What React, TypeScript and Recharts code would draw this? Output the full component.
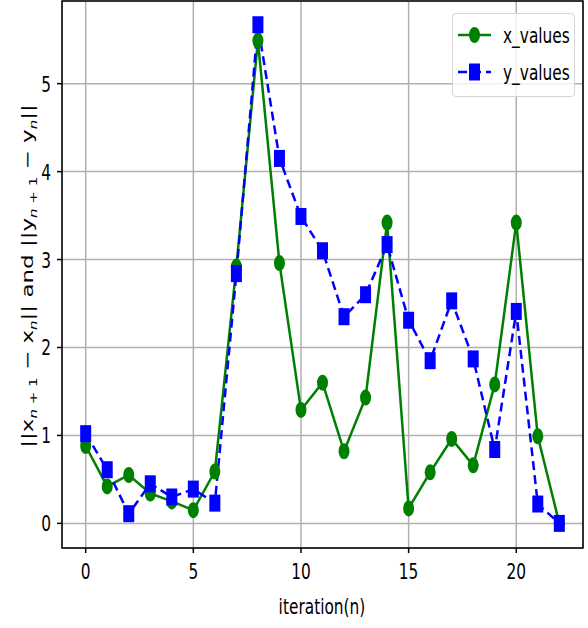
import React from 'react';
import { LineChart, Line, XAxis, YAxis, CartesianGrid, ReferenceArea, Label } from 'recharts';

// values
const iterations = [0, 1, 2, 3, 4, 5, 6, 7, 8, 9, 10, 11, 12, 13, 14, 15, 16, 17, 18, 19, 20, 21, 22];
const xValues = [0.88, 0.42, 0.55, 0.34, 0.25, 0.15, 0.59, 2.92, 5.49, 2.96, 1.29, 1.6, 0.82, 1.43, 3.42, 0.17, 0.58, 0.96, 0.66, 1.58, 3.42, 0.99, 0.0];
const yValues = [1.02, 0.61, 0.11, 0.45, 0.3, 0.39, 0.23, 2.84, 5.67, 4.15, 3.49, 3.1, 2.35, 2.6, 3.17, 2.31, 1.85, 2.53, 1.87, 0.84, 2.41, 0.22, 0.0];
const xTicks = [0, 5, 10, 15, 20];
const yTicks = [0, 1, 2, 3, 4, 5];

const data = iterations.map((n, i) => ({ n, x: xValues[i], y: yValues[i] }));

const FONT = 'DejaVu Sans, sans-serif';
const SX = 0.7; // the reference is squeezed horizontally

const XTick = (props: any) => {
  const { x, y, payload } = props;
  return (
    <text transform={`translate(${x},${y + 26}) scale(${SX},1)`} textAnchor="middle" fontSize={22} fontFamily={FONT} fill="#000">
      {payload.value}
    </text>
  );
};

const YTick = (props: any) => {
  const { x, y, payload } = props;
  return (
    <text transform={`translate(${x - 6},${y + 8}) scale(${SX},1)`} textAnchor="end" fontSize={22} fontFamily={FONT} fill="#000">
      {payload.value}
    </text>
  );
};

const GreenDot = (p: any) => (
  <ellipse key={`g${p.index}`} cx={p.cx} cy={p.cy} rx={5.5} ry={8} fill="green" />
);
const BlueDot = (p: any) => (
  <rect key={`b${p.index}`} x={p.cx - 5.5} y={p.cy - 8.5} width={11} height={17} fill="blue" />
);

const LegendBox = () => (
  <div style={{ position: 'absolute', left: 452, top: 13, width: 123, height: 84, border: '1px solid #d5d5d5', borderRadius: 4, background: 'rgba(255,255,255,0.8)', boxSizing: 'border-box' }}>
    <svg width={122} height={82} style={{ display: 'block' }}>
      <line x1={5} x2={38} y1={21} y2={21} stroke="green" strokeWidth={2.5} />
      <ellipse cx={21.5} cy={21} rx={5.5} ry={8} fill="green" />
      <text transform={`translate(50,29) scale(${SX},1)`} fontSize={22} fontFamily={FONT} fill="#000">x_values</text>
      <line x1={5} x2={38} y1={58} y2={58} stroke="blue" strokeWidth={2.5} strokeDasharray="9 5" />
      <rect x={16} y={49.5} width={11} height={17} fill="blue" />
      <text transform={`translate(50,66) scale(${SX},1)`} fontSize={22} fontFamily={FONT} fill="#000">y_values</text>
    </svg>
  </div>
);

const YLabel = () => (
  <text transform={`translate(33,276) scale(${SX},1) rotate(-90)`} textAnchor="middle" fontSize={23} fontFamily={FONT} fill="#000">
    ||x
    <tspan fontSize={15} dy={6}><tspan fontStyle="italic">n</tspan> + 1</tspan>
    <tspan dy={-6}> − x</tspan>
    <tspan fontSize={15} dy={6} fontStyle="italic">n</tspan>
    <tspan dy={-6}>|| and ||y</tspan>
    <tspan fontSize={15} dy={6}><tspan fontStyle="italic">n</tspan> + 1</tspan>
    <tspan dy={-6}> − y</tspan>
    <tspan fontSize={15} dy={6} fontStyle="italic">n</tspan>
    <tspan dy={-6}>||</tspan>
  </text>
);

const XLabel = () => (
  <text transform={`translate(322,614) scale(${SX},1)`} textAnchor="middle" fontSize={22} fontFamily={FONT} fill="#000">
    iteration(n)
  </text>
);

const App: React.FC = () => {
  return (
    <div style={{ position: 'absolute', left: 0, top: 0, width: 588, height: 628, background: '#fff' }}>
      <LineChart width={588} height={628} data={data} margin={{ top: 1, right: 5, bottom: 0, left: 0 }}>
        <CartesianGrid stroke="#b0b0b0" strokeWidth={1.5} />
        <XAxis
          dataKey="n"
          type="number"
          domain={[-1.1, 23.1]}
          ticks={xTicks}
          allowDataOverflow
          height={80}
          tickSize={5}
          tickMargin={0}
          axisLine={false}
          tickLine={{ stroke: '#000', strokeWidth: 1.5 }}
          tick={<XTick />}
        >
          <Label content={<XLabel />} />
        </XAxis>
        <YAxis
          type="number"
          domain={[-0.28, 5.94]}
          ticks={yTicks}
          allowDataOverflow
          width={62}
          tickSize={5}
          tickMargin={0}
          axisLine={false}
          tickLine={{ stroke: '#000', strokeWidth: 1.5 }}
          tick={<YTick />}
        >
          <Label content={<YLabel />} />
        </YAxis>
        <ReferenceArea x1={-1.1} x2={23.1} y1={-0.28} y2={5.94} fill="none" stroke="#000" strokeWidth={1.5} ifOverflow="visible" />
        <Line dataKey="x" stroke="green" strokeWidth={2.5} dot={GreenDot} activeDot={false} isAnimationActive={false} />
        <Line dataKey="y" stroke="blue" strokeWidth={2.5} strokeDasharray="9 5" dot={BlueDot} activeDot={false} isAnimationActive={false} />
      </LineChart>
      <LegendBox />
    </div>
  );
};

export default App;
